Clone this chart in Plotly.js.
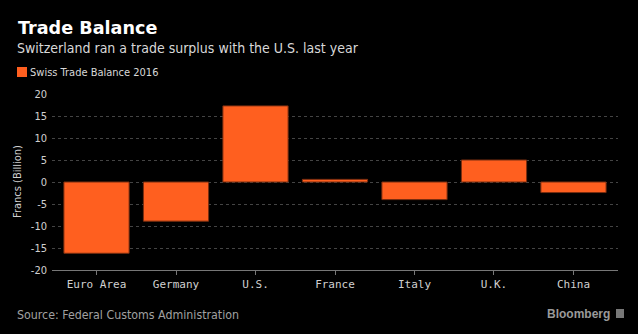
<!DOCTYPE html>
<html><head><meta charset="utf-8">
<script src="https://cdn.plot.ly/plotly-3.0.1.min.js"></script>
<style>html,body{margin:0;padding:0;background:#000;}#chart{width:638px;height:334px;}</style>
</head><body><div id="chart"></div>
<script>
const categories = ["Euro Area", "Germany", "U.S.", "France", "Italy", "U.K.", "China"];
const tradeBalance2016 = [-16.2, -8.9, 17.3, 0.6, -4.0, 5.0, -2.4];
const yTicks = [-20, -15, -10, -5, 0, 5, 10, 15, 20];
const seriesName = "Swiss Trade Balance 2016";

const orange = "#ff5f1f";
const PL = 52, PT = 94, PW = 566, PH = 176;
const px = v => (v - PL) / PW;
const py = v => 1 - (v - PT) / PH;
const narrow = "DejaVu Sans Condensed, DejaVu Sans";
const data = [{
  type: "bar",
  x: categories,
  y: tradeBalance2016,
  name: seriesName,
  marker: {color: orange, line: {color: "#7a2e10", width: 1}},
  width: 0.82,
  showlegend: false
}];
const layout = {
  width: 638, height: 334,
  paper_bgcolor: "#000", plot_bgcolor: "#000",
  margin: {l: PL, r: 638 - PL - PW, t: PT, b: 334 - PT - PH, autoexpand: false},
  font: {family: narrow, color: "#c8c8c8", size: 11},
  showlegend: false,
  xaxis: {
    range: [-0.56, 6.56], showgrid: false, zeroline: false,
    showline: true, linecolor: "#777", linewidth: 1,
    ticks: "outside", ticklen: 4, tickcolor: "#777", tickangle: 0,
    tickfont: {family: "DejaVu Sans Mono, monospace", size: 11, color: "#d0d0d0"},
    automargin: false, fixedrange: true
  },
  yaxis: {
    range: [-20, 20], tickvals: yTicks, ticktext: yTicks.map(String),
    showgrid: true, gridcolor: "#444", griddash: "dot", gridwidth: 1,
    zeroline: false, showline: false, ticks: "", ticklabelstandoff: 4,
    tickfont: {family: narrow, size: 11, color: "#d0d0d0"},
    automargin: false, fixedrange: true
  },
  annotations: [
    {text: "<b>Trade Balance</b>", xref: "paper", yref: "paper", x: px(16), y: py(28), xanchor: "left", yanchor: "middle",
     showarrow: false, font: {family: "DejaVu Sans", size: 17.6, color: "#ffffff"}},
    {text: "Switzerland ran a trade surplus with the U.S. last year", xref: "paper", yref: "paper", x: px(15), y: py(48),
     xanchor: "left", yanchor: "middle", showarrow: false, font: {family: narrow, size: 14, color: "#d8d8d8"}},
    {text: seriesName, xref: "paper", yref: "paper", x: px(28), y: py(72),
     xanchor: "left", yanchor: "middle", showarrow: false, font: {family: narrow, size: 11, color: "#d8d8d8"}},
    {text: "Francs (Billion)", xref: "paper", yref: "paper", x: px(17), y: py(182), textangle: -90,
     xanchor: "center", yanchor: "middle", showarrow: false, font: {family: narrow, size: 11, color: "#d0d0d0"}},
    {text: "Source: Federal Customs Administration", xref: "paper", yref: "paper", x: px(15), y: py(315),
     xanchor: "left", yanchor: "middle", showarrow: false, font: {family: narrow, size: 12.3, color: "#a0a0a0"}},
    {text: "<b>Bloomberg</b>", xref: "paper", yref: "paper", x: px(612), y: py(314),
     xanchor: "right", yanchor: "middle", showarrow: false, font: {family: "Liberation Sans, Arial", size: 12, color: "#9a9a9a"}}
  ],
  shapes: [
    {type: "rect", xref: "paper", yref: "paper", x0: px(17), x1: px(27), y0: py(67), y1: py(77),
     fillcolor: orange, line: {width: 0}},
    {type: "rect", xref: "paper", yref: "paper", x0: px(616), x1: px(624), y0: py(309), y1: py(318),
     fillcolor: "#777", line: {width: 0}}
  ]
};
Plotly.newPlot("chart", data, layout, {displayModeBar: false, staticPlot: true});
</script></body></html>
